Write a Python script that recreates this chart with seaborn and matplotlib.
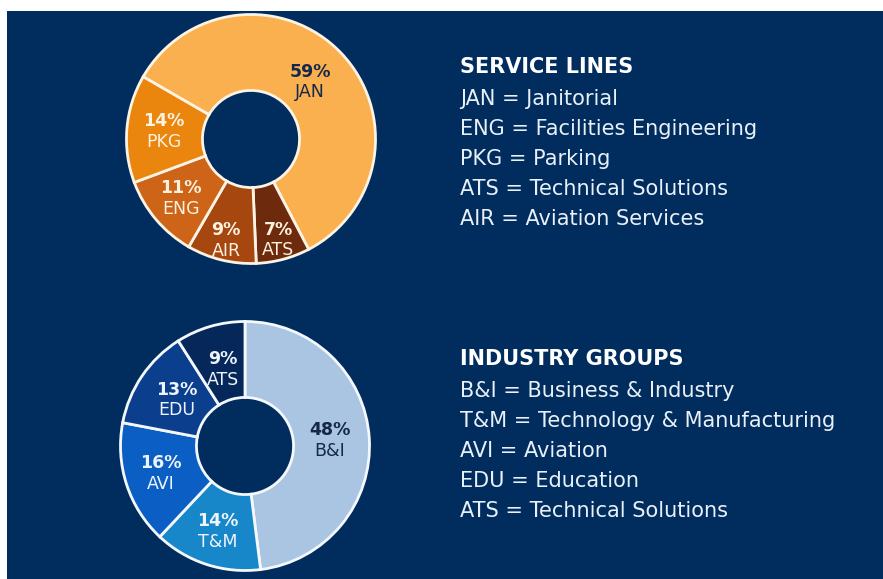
import matplotlib.pyplot as plt
import matplotlib.patches as mpatches
import seaborn as sns
import numpy as np

C_FUNDO = "#002d5e"
C_TEXTO = "#eaf0f7"
C_ESCURO = "#14284a"

# donut superior - linhas de servico
linhas_siglas = ["JAN", "ATS", "AIR", "ENG", "PKG"]
linhas_valores = [59, 7, 9, 11, 14]
linhas_cores = ["#fbb050", "#6e2a0c", "#a6470f", "#cd6418", "#ea850e"]

# donut inferior - grupos de industria
grupos_siglas = ["B&I", "T&M", "AVI", "EDU", "ATS"]
grupos_valores = [48, 14, 16, 13, 9]
grupos_cores = ["#a9c5e2", "#1787c9", "#0b5fc4", "#0b3f8e", "#05275a"]

legenda_linhas_titulo = "SERVICE LINES"
legenda_linhas = ["JAN = Janitorial", "ENG = Facilities Engineering", "PKG = Parking",
                  "ATS = Technical Solutions", "AIR = Aviation Services"]
legenda_grupos_titulo = "INDUSTRY GROUPS"
legenda_grupos = ["B&I = Business & Industry", "T&M = Technology & Manufacturing",
                  "AVI = Aviation", "EDU = Education", "ATS = Technical Solutions"]

sns.set_theme(style="white")
FONTE = ["Liberation Sans Narrow", "DejaVu Sans Condensed", "DejaVu Sans"]
plt.rcParams['font.family'] = FONTE

W, H = 883, 579
fig = plt.figure(figsize=(W / 100, H / 100), dpi=100, facecolor="white")
fig.patches.append(mpatches.Rectangle((7 / W, 0), 1, (H - 11) / H, transform=fig.transFigure,
                                      facecolor=C_FUNDO, edgecolor="none", zorder=-5))


def donut(cx, cy, r, valores, siglas, cores, inicio, cor_borda, raios, cores_txt):
    ax = fig.add_axes([(cx - r) / W, 1 - (cy + r) / H, 2 * r / W, 2 * r / H])
    ax.set_facecolor("none")
    wedges, _ = ax.pie(valores, colors=cores, startangle=inicio, counterclock=False,
                       wedgeprops=dict(width=0.61, edgecolor=cor_borda, linewidth=2.0))
    ax.set_xlim(-1.02, 1.02)
    ax.set_ylim(-1.02, 1.02)
    for w, v, s, rr, ct in zip(wedges, valores, siglas, raios, cores_txt):
        ang = np.deg2rad((w.theta1 + w.theta2) / 2)
        x, y = rr * np.cos(ang), rr * np.sin(ang)
        ax.text(x, y + 0.01, f"{v}%", ha="center", va="bottom", fontsize=12.5,
                weight="bold", color=ct)
        ax.text(x, y - 0.01, s, ha="center", va="top", fontsize=12.5, color=ct)
    return ax


donut(251, 139, 127, linhas_valores, linhas_siglas, linhas_cores, 150, "#fbf3e4",
      [0.66, 0.84, 0.84, 0.74, 0.70],
      [C_ESCURO, "#fdf1df", "#fdf1df", "#fdf1df", "#fdf1df"])
donut(245, 446, 127, grupos_valores, grupos_siglas, grupos_cores, 90, "#f4f8fc",
      [0.68, 0.72, 0.71, 0.66, 0.64],
      [C_ESCURO, "#eef4fb", "#eef4fb", "#eef4fb", "#eef4fb"])


def legenda(y0, titulo, linhas):
    fig.text(460 / W, 1 - y0 / H, titulo, fontsize=15, weight="bold", color="white",
             va="baseline", ha="left")
    for i, t in enumerate(linhas):
        y = y0 + 32 + 30 * i
        fig.text(460 / W, 1 - y / H, t, fontsize=15, color=C_TEXTO, va="baseline", ha="left")


legenda(73, legenda_linhas_titulo, legenda_linhas)
legenda(365, legenda_grupos_titulo, legenda_grupos)

fig.savefig("out.png", dpi=100, facecolor=fig.get_facecolor())
